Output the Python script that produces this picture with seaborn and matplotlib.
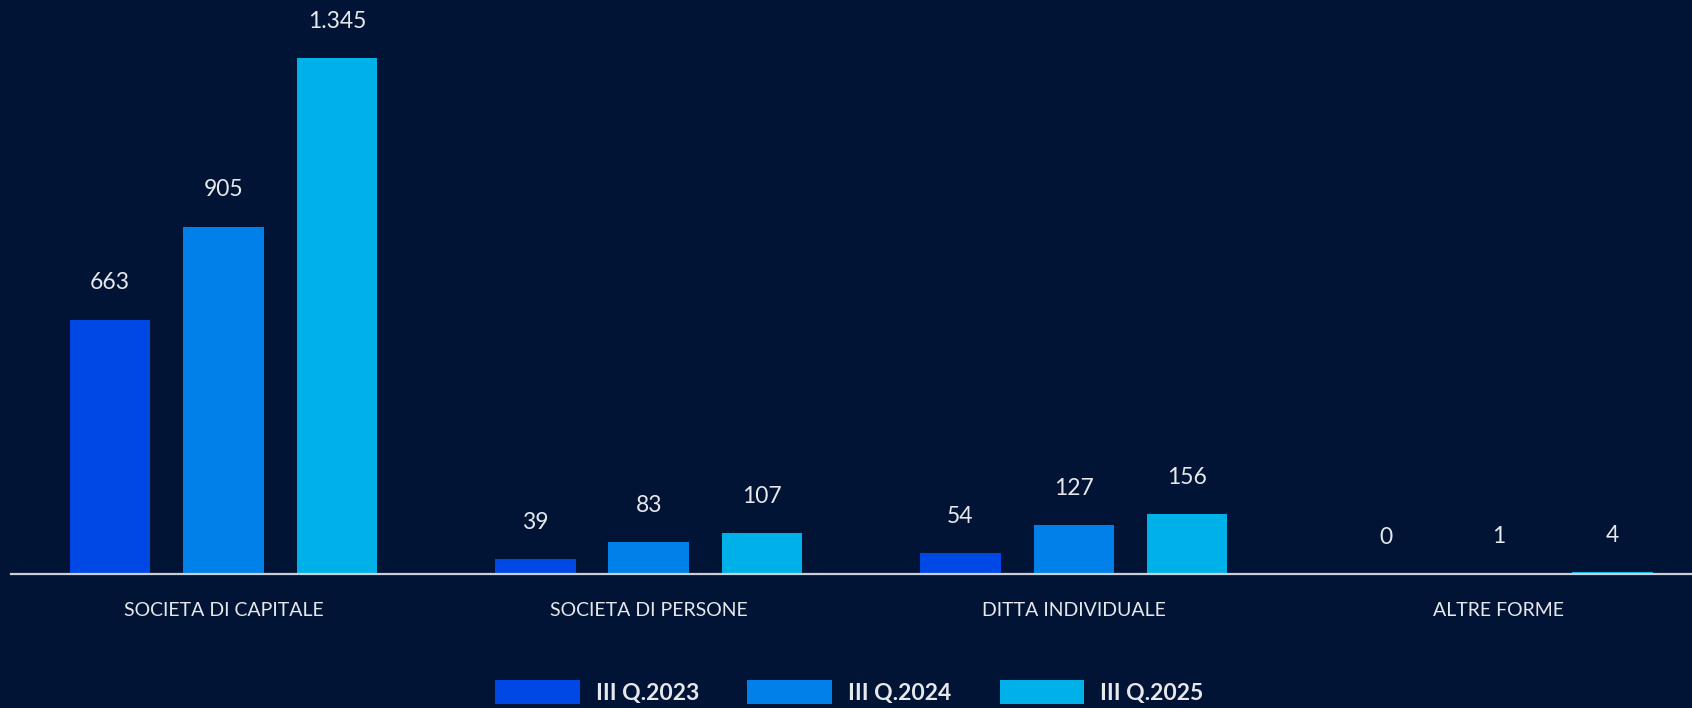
import matplotlib
matplotlib.use("Agg")
import matplotlib.pyplot as plt
import seaborn as sns
import pandas as pd
from matplotlib.patches import Patch

categories = ["SOCIETA DI CAPITALE", "SOCIETA DI PERSONE", "DITTA INDIVIDUALE", "ALTRE FORME"]
series_names = ["III Q.2023", "III Q.2024", "III Q.2025"]
values_2023 = [663, 39, 54, 0]
values_2024 = [905, 83, 127, 1]
values_2025 = [1345, 107, 156, 4]
colors = ["#0048E6", "#0080E8", "#00B1E9"]
bg = "#011435"

rows = []
for name, vals in zip(series_names, [values_2023, values_2024, values_2025]):
    for c, v in zip(categories, vals):
        rows.append({"categoria": c, "periodo": name, "valore": v})
df = pd.DataFrame(rows)

sns.set_style("white")
plt.rcParams["font.family"] = ["Lato", "DejaVu Sans"]

fig = plt.figure(figsize=(16.92, 7.08), dpi=100, facecolor=bg)
ax = fig.add_axes([11 / 1692, 134 / 708, 1 - 11 / 1692, 574 / 708])
ax.set_facecolor(bg)

sns.barplot(data=df, x="categoria", y="valore", hue="periodo", order=categories,
            hue_order=series_names, palette=colors, width=0.8, gap=0.29,
            saturation=1, legend=False, edgecolor="none", linewidth=0, ax=ax)

for cont in ax.containers:
    labels = [f"{int(b.get_height()):,}".replace(",", ".") for b in cont]
    ax.bar_label(cont, labels=labels, padding=19, color="#E6E8EC", fontsize=16.5)

ax.set_xlim(-0.5, 3.454)
ax.set_ylim(0, 1496)
ax.set_xlabel("")
ax.set_ylabel("")
ax.set_yticks([])
for s in ["top", "right", "left"]:
    ax.spines[s].set_visible(False)
ax.spines["bottom"].set_color("#C9CED8")
ax.spines["bottom"].set_linewidth(1.6)
ax.spines["bottom"].set_zorder(5)
ax.tick_params(axis="x", length=0, pad=20, labelsize=14, labelcolor="#E6E8EC")

handles = [Patch(facecolor=c, edgecolor="none", label=n) for c, n in zip(colors, series_names)]
leg = fig.legend(handles=handles, loc="center", bbox_to_anchor=(0.502, 16 / 708), ncol=3,
                 frameon=False, handlelength=3.7, handleheight=1.2, handletextpad=0.7,
                 columnspacing=2.1, prop={"weight": "bold", "size": 16.5})
for t in leg.get_texts():
    t.set_color("#E6E8EC")

fig.savefig("out.png", dpi=100, facecolor=bg)
